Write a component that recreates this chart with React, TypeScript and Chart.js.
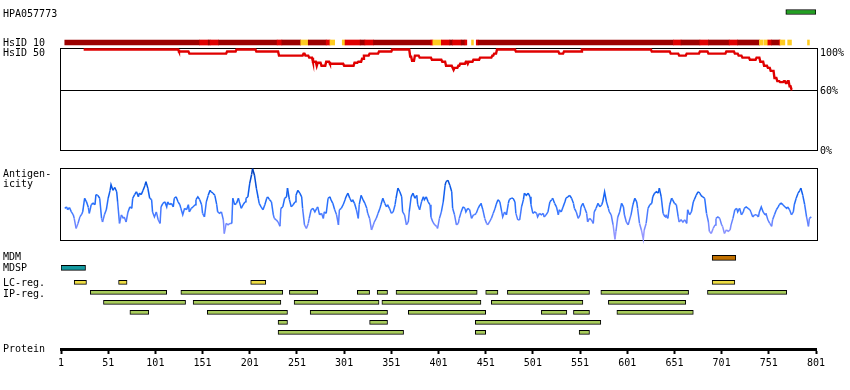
import React, { useEffect, useRef } from "react";
import { Chart, registerables } from "chart.js";

Chart.register(...registerables);

// ---------------- data ----------------
const ANTIGEN_ID = "HPA057773";
const ANTIGEN_RANGE: [number, number] = [769, 801];
const PROTEIN_TICKS = [1, 51, 101, 151, 201, 251, 301, 351, 401, 451, 501, 551, 601, 651, 701, 751, 801];

// HsID 10 similarity: [start, end, level]  level 0 = high, 1 = medium, 2 = low
const HSID10_SEGMENTS: [number, number, number][] = [
  [5, 148, 0], [148, 157, 1], [157, 159, 0], [159, 168, 1], [168, 230, 0], [230, 235, 1],
  [235, 255, 0], [255, 263, 2], [263, 282, 0], [282, 286, 1], [286, 291, 2], [299, 302, 2],
  [302, 318, 1], [318, 323, 0], [323, 332, 1], [332, 393, 0], [393, 395, 1], [395, 404, 2],
  [404, 413, 1], [413, 416, 0], [416, 425, 1], [425, 429, 0], [429, 431, 1], [436, 438, 2],
  [441, 443, 1], [443, 650, 0], [650, 658, 1], [658, 678, 0], [678, 687, 1], [687, 709, 0],
  [709, 718, 1], [718, 741, 0], [741, 745, 2], [746, 750, 2], [750, 754, 1], [754, 762, 0],
  [762, 763, 1], [763, 768, 2], [771, 775, 2], [792, 794, 2],
];

// HsID 50 identity (%) plateaus
const ID50_START = [25, 126, 137, 177, 187, 208, 232, 258, 260, 264, 268, 272, 273, 277, 282, 286, 301, 312, 316, 320,
  322, 328, 338, 352, 371, 373, 376, 381, 394, 405, 409, 416, 417, 418, 422, 424, 430, 432, 433, 438,
  445, 458, 460, 463, 483, 529, 534, 553, 627, 647, 656, 664, 678, 687, 706, 715, 719, 723, 731, 738,
  742, 746, 750, 753, 757, 760, 763, 767, 769, 771, 773, 775];
const ID50_VALUE = [100, 98, 96, 98, 100, 98, 94, 96, 94, 92, 88, 84, 87, 84, 88, 86, 84, 87, 88, 91,
  94, 96, 98, 100, 93, 89, 94, 92, 90, 88, 84, 82, 80, 82, 84, 86, 88, 86, 88, 90,
  92, 94, 96, 100, 98, 96, 98, 100, 98, 96, 94, 96, 98, 96, 98, 96, 94, 92, 90, 92,
  88, 84, 82, 79, 72, 69, 68, 69, 67, 69, 64, 61];
const ID50_END = 776;
const ID_TICKS = [100, 60, 0];

// Antigenicity score (0 = low, 100 = high): [residue, score]
const AG_POINTS: [number, number][] = [
  [5,44],[7,46],[8,42],[10,45],[12,39],[14,35],[15,30],[17,16],[19,23],[21,32],[23,36],[24,39],[26,58],[28,53],[30,45],[31,37],[33,49],[35,51],[37,49],[38,63],[40,62],[42,58],[44,30],[45,25],[47,35],[49,42],[51,58],[53,69],[54,77],[56,69],[58,73],[60,67],[61,53],[63,23],[65,35],[67,30],[68,32],[70,25],[72,39],[74,46],[76,44],[77,58],[79,63],[81,67],[83,60],[84,65],[86,63],[88,69],[90,76],[91,81],[93,72],[95,58],[97,56],[98,39],[100,32],[102,39],[104,28],[106,23],[107,46],[109,51],[111,53],[113,46],[114,53],[116,49],[118,51],[120,46],[121,58],[123,60],[125,53],[127,49],[128,44],[130,35],[132,44],[134,42],[136,49],[137,39],[139,44],[141,46],[143,49],[144,56],[146,60],[148,56],[150,49],[151,37],[153,32],[155,53],[157,62],[159,69],[160,67],[162,65],[164,62],[166,49],[167,39],[169,37],[171,39],[173,28],[174,9],[176,23],[178,21],[180,23],[182,23],[183,58],[185,49],[187,51],[189,58],[190,53],[192,44],[194,49],[196,53],[197,58],[199,60],[201,79],[203,91],
  [204,99],[206,90],[208,72],[210,58],[211,51],[213,46],[215,42],[217,49],[219,58],[220,60],[222,56],[224,53],[226,35],[227,30],[229,28],[231,25],[233,19],[234,44],[236,46],[238,58],[240,60],[241,72],[243,56],[245,46],[247,49],[249,53],[250,62],[252,69],[254,65],[256,60],[257,44],[259,21],[261,16],[263,23],[264,30],[266,42],[268,44],[270,39],[272,44],[273,46],[275,35],[277,37],[279,30],[280,39],[282,37],[284,58],[286,60],[287,56],[289,51],[291,42],[293,35],[295,21],[296,42],[298,44],[300,49],[302,56],[303,60],[305,65],[307,58],[309,53],[310,56],[312,51],[314,42],[316,30],[317,49],[319,62],[321,56],[323,51],[325,44],[326,37],[328,30],[330,14],[332,21],[333,25],[335,30],[337,37],[339,44],[340,49],[342,58],[344,51],[346,46],[347,49],[349,44],[351,37],[353,39],[355,49],[356,58],[358,72],[360,67],[362,60],[363,39],[365,35],[367,21],[369,25],[370,39],[372,60],[374,65],[376,58],[378,62],[379,49],[381,42],[383,53],[385,60],[386,56],[388,60],[390,53],[392,49],[393,32],[395,25],[397,21],[399,19],[400,16],
  [402,30],[404,39],[406,53],[408,76],[409,81],[411,83],[413,76],[415,67],[416,44],[418,35],[420,21],[422,23],[423,30],[425,39],[427,46],[429,44],[430,39],[432,44],[434,42],[436,30],[438,35],[439,35],[441,37],[443,44],[445,49],[446,51],[448,42],[450,30],[452,23],[453,21],[455,25],[457,30],[459,37],[461,44],[462,49],[464,56],[466,53],[468,39],[469,32],[471,39],[473,35],[475,51],[476,56],[478,58],[480,58],[482,53],[483,37],[485,28],[487,28],[489,46],[491,56],[492,65],[494,62],[496,65],[498,60],[499,49],[501,37],[503,39],[505,37],[506,32],[508,37],[510,35],[512,37],[513,32],[515,35],[517,39],[519,53],[521,56],[522,58],[524,51],[526,46],[528,35],[529,42],[531,39],[533,46],[535,53],[536,58],[538,60],[540,62],[542,58],[544,51],[545,44],[547,39],[549,30],[551,35],[552,46],[554,51],[556,44],[558,37],[559,25],[561,30],[563,28],[565,23],[566,39],[568,44],[570,51],[572,46],[574,49],[575,53],[577,67],[579,53],[581,44],[582,39],[584,35],[586,21],[588,1],[589,12],[591,32],[593,39],[595,51],[597,46],[598,35],[600,25],[602,21],
  [605,35],[607,49],[609,58],[611,53],[612,44],[614,23],[616,14],[618,1],[619,14],[621,23],[623,44],[625,49],[627,51],[628,60],[630,65],[632,67],[634,65],[635,72],[637,60],[639,37],[641,32],[642,35],[644,30],[646,49],[648,58],[649,56],[651,51],[653,49],[655,32],[656,25],[658,28],[660,25],[662,28],[664,23],[665,42],[667,35],[669,39],[671,53],[672,56],[674,62],[676,67],[678,65],[679,62],[681,60],[683,58],[685,37],[687,25],[688,12],[690,9],[692,16],[694,21],[695,30],[697,32],[699,30],[701,21],[702,19],[704,9],[706,14],[708,12],[710,14],[711,21],[713,30],[715,42],[717,44],[718,39],[720,44],[722,35],[724,39],[725,44],[727,46],[729,44],[731,42],[732,39],[734,32],[736,35],[738,35],[740,32],[741,39],[743,46],[745,39],[747,35],[748,37],[750,28],[752,23],[754,19],[755,28],[757,35],[759,42],[761,46],[762,49],[764,51],[766,49],[768,46],[770,44],[771,46],[773,42],[775,35],[777,39],[778,49],[780,58],[782,65],[784,69],[785,72],[787,62],[789,49],[791,32],[793,19],[794,30],[796,32],
];

// Sequence features: [start, end]
const MDM_REGIONS: [number, number][] = [[691, 716]];
const MDSP_REGIONS: [number, number][] = [[1, 27]];
const LC_REGIONS: [number, number][] = [[15, 28], [62, 71], [202, 218], [691, 715]];
// IP regions: [start, end, lane]
const IP_REGIONS: [number, number, number][] = [
  [32, 113, 0], [128, 236, 0], [243, 273, 0], [315, 328, 0], [336, 347, 0], [356, 442, 0], [451, 464, 0], [474, 561, 0], [573, 666, 0], [686, 770, 0],
  [46, 133, 1], [141, 234, 1], [248, 338, 1], [341, 446, 1], [457, 554, 1], [581, 663, 1],
  [74, 94, 2], [156, 241, 2], [265, 347, 2], [369, 451, 2], [510, 537, 2], [544, 561, 2], [590, 671, 2],
  [231, 241, 3], [328, 347, 3], [440, 573, 3],
  [231, 364, 4], [440, 451, 4], [550, 561, 4],
];

// ---------------- layout / style ----------------
const W = 850;
const H = 390;
const AREA_TOP = 0;
const AREA_BOTTOM = 349; // H - x axis height
const FONT = "'DejaVu Sans Mono', monospace";
const LEVEL_COLORS = ["#9c0000", "#e00000", "#ffcc22"];
const TRACK_POS = { MDM: 0, MDSP: 1, LC: 2.45, IP: 3.45 };

// linear axis range so that value a sits at pixel pa and value b at pixel pb
function span(a: number, pa: number, b: number, pb: number) {
  const h = AREA_BOTTOM - AREA_TOP;
  const s = (pa - pb) / (b - a);
  if (s > 0) {
    const min = a - (AREA_BOTTOM - pa) / s;
    return { min, max: min + h / s, reverse: false, offset: false };
  }
  const sr = -s;
  const min = a - (pa - AREA_TOP) / sr;
  return { min, max: min + h / sr, reverse: true, offset: false };
}

const AG_STOPS: [number, number[]][] = [
  [0, [170, 160, 255]],
  [25, [100, 130, 255]],
  [45, [45, 115, 255]],
  [70, [10, 90, 235]],
  [100, [0, 60, 180]],
];
function agColor(v: number) {
  for (let i = 1; i < AG_STOPS.length; i++) {
    const [v1, c1] = AG_STOPS[i];
    const [v0, c0] = AG_STOPS[i - 1];
    if (v <= v1 || i === AG_STOPS.length - 1) {
      const t = Math.max(0, Math.min(1, (v - v0) / (v1 - v0)));
      const c = c0.map((x, k) => Math.round(x + (c1[k] - x) * t));
      return `rgb(${c[0]},${c[1]},${c[2]})`;
    }
  }
  return "#000";
}

const featureBar = (label: string, data: any[], color: string, thickness: number) => ({
  type: "bar" as const,
  label,
  indexAxis: "y" as const,
  xAxisID: "x",
  yAxisID: "yFeat",
  data,
  backgroundColor: color,
  borderColor: "#000",
  borderWidth: 1,
  borderSkipped: false,
  barThickness: thickness,
  grouped: false,
});

const decorPlugin = {
  id: "decor",
  beforeDatasetsDraw(chart: any) {
    const { ctx, scales } = chart;
    const x = scales.x;
    const yId = scales.yId;
    const yAg = scales.yAg;
    const left = Math.round(x.getPixelForValue(1)) - 1 + 0.5;
    const right = Math.round(x.getPixelForValue(801)) + 1 + 0.5;
    ctx.save();
    ctx.strokeStyle = "#000";
    ctx.lineWidth = 1;
    const idTop = Math.round(yId.getPixelForValue(100) - 1.5) + 0.5;
    const idBot = Math.round(yId.getPixelForValue(0) - 1.5) + 0.5;
    ctx.strokeRect(left, idTop, right - left, idBot - idTop);
    const y60 = Math.round(yId.getPixelForValue(60)) + 0.5;
    ctx.beginPath();
    ctx.moveTo(left, y60);
    ctx.lineTo(right, y60);
    ctx.stroke();
    const agTop = Math.round(yAg.getPixelForValue(100)) + 0.5;
    const agBot = Math.round(yAg.getPixelForValue(0)) + 0.5;
    ctx.strokeRect(left, agTop, right - left, agBot - agTop);
    ctx.restore();
  },
  afterDraw(chart: any) {
    const { ctx, scales } = chart;
    const { x, yTop, yId, yAg, yFeat } = scales;
    ctx.save();
    ctx.fillStyle = "#000";
    ctx.font = `10px ${FONT}`;
    ctx.textBaseline = "alphabetic";
    ctx.textAlign = "left";
    const lx = 3;
    const put = (t: string, y: number) => ctx.fillText(t, lx, Math.round(y));
    put(ANTIGEN_ID, yTop.getPixelForValue(0) + 4.5);
    put("HsID 10", yTop.getPixelForValue(1) + 3.5);
    put("HsID 50", yId.getPixelForValue(100) + 6.5);
    put("Antigen-", yAg.getPixelForValue(100) + 8.5);
    put("icity", yAg.getPixelForValue(100) + 18.5);
    put("MDM", yFeat.getPixelForValue(TRACK_POS.MDM) + 1.7);
    put("MDSP", yFeat.getPixelForValue(TRACK_POS.MDSP) + 2.7);
    put("LC-reg.", yFeat.getPixelForValue(TRACK_POS.LC) + 4);
    put("IP-reg.", yFeat.getPixelForValue(TRACK_POS.IP) + 4.7);
    put("Protein", x.top + 3);
    // identity axis labels on the right
    const rx = Math.round(x.getPixelForValue(801)) + 4;
    const dy: Record<number, number> = { 100: 6.5, 60: 4, 0: 2.5 };
    ID_TICKS.forEach((v) => {
      ctx.fillText(`${v}%`, rx, Math.round(yId.getPixelForValue(v) + (dy[v] ?? 3.5)));
    });
    ctx.restore();
  },
};

export default function App() {
  const ref = useRef<HTMLCanvasElement | null>(null);

  useEffect(() => {
    if (!ref.current) return;

    const idPoints: { x: number; y: number }[] = [];
    ID50_START.forEach((s, i) => {
      const last = i === ID50_START.length - 1;
      const e = last ? ID50_END : ID50_START[i + 1] - 1;
      idPoints.push({ x: s, y: ID50_VALUE[i] });
      if (e > s) idPoints.push({ x: e, y: ID50_VALUE[i] });
    });

    const chart = new Chart(ref.current, {
      type: "line",
      data: {
        datasets: [
          {
            type: "line",
            label: "HsID 50",
            xAxisID: "x",
            yAxisID: "yId",
            data: idPoints,
            borderColor: "#e00000",
            borderWidth: 2.4,
            pointRadius: 0,
            tension: 0,
            fill: false,
          },
          {
            type: "line",
            label: "Antigenicity",
            xAxisID: "x",
            yAxisID: "yAg",
            data: AG_POINTS.map(([r, v]) => ({ x: r, y: v })),
            borderColor: agColor(50),
            borderWidth: 1.5,
            pointRadius: 0,
            tension: 0,
            fill: false,
            segment: {
              borderColor: (c: any) => agColor((c.p0.parsed.y + c.p1.parsed.y) / 2),
            },
          },
          {
            type: "bar",
            label: "HsID 10",
            indexAxis: "y",
            xAxisID: "x",
            yAxisID: "yTop",
            data: HSID10_SEGMENTS.map(([s, e]) => ({ x: [s, e], y: 1 })),
            backgroundColor: HSID10_SEGMENTS.map((sg) => LEVEL_COLORS[sg[2]]),
            borderWidth: 0,
            barThickness: 5,
            grouped: false,
          } as any,
          {
            type: "bar",
            label: ANTIGEN_ID,
            indexAxis: "y",
            xAxisID: "x",
            yAxisID: "yTop",
            data: [{ x: ANTIGEN_RANGE, y: 0 }],
            backgroundColor: "#22a022",
            borderColor: "#000",
            borderWidth: 1,
            borderSkipped: false,
            barThickness: 5,
            grouped: false,
          } as any,
          featureBar("MDM", MDM_REGIONS.map(([s, e]) => ({ x: [s, e], y: TRACK_POS.MDM })), "#c07000", 5) as any,
          featureBar("MDSP", MDSP_REGIONS.map(([s, e]) => ({ x: [s, e], y: TRACK_POS.MDSP })), "#14999f", 5) as any,
          featureBar("LC-reg.", LC_REGIONS.map(([s, e]) => ({ x: [s, e], y: TRACK_POS.LC })), "#eedd44", 4) as any,
          featureBar("IP-reg.", IP_REGIONS.map(([s, e, l]) => ({ x: [s, e], y: TRACK_POS.IP + l })), "#a8cc5c", 4) as any,
        ],
      },
      options: {
        responsive: false,
        animation: false,
        devicePixelRatio: 1,
        events: [],
        layout: { padding: { left: 61, right: 34, top: AREA_TOP, bottom: 0 } },
        plugins: { legend: { display: false }, tooltip: { enabled: false }, title: { display: false } },
        scales: {
          x: {
            type: "linear",
            position: "bottom",
            min: 1,
            max: 801,
            bounds: "data",
            offset: false,
            afterBuildTicks: (s: any) => {
              s.ticks = PROTEIN_TICKS.map((v) => ({ value: v }));
            },
            afterFit: (s: any) => {
              s.height = H - AREA_BOTTOM;
            },
            border: { display: true, color: "#000", width: 3 },
            grid: { drawOnChartArea: false, drawTicks: true, tickLength: 5, tickWidth: 2, tickColor: "#000", offset: false },
            ticks: {
              color: "#000",
              font: { family: FONT, size: 10 },
              padding: 3,
              maxRotation: 0,
              autoSkip: false,
              callback: (v: any) => String(v),
            },
          },
          yTop: { type: "linear", axis: "y", display: false, bounds: "data", ...span(0, 12, 1, 42.5) },
          yId: { type: "linear", axis: "y", display: false, bounds: "data", ...span(0, 151.5, 100, 49.5) },
          yAg: { type: "linear", axis: "y", display: false, bounds: "data", ...span(0, 240, 100, 168) },
          yFeat: { type: "linear", axis: "y", display: false, bounds: "data", ...span(0, 257.8, 1, 267.8) },
        } as any,
      },
      plugins: [decorPlugin],
    } as any);

    return () => chart.destroy();
  }, []);

  return (
    <div style={{ position: "absolute", left: 0, top: 0, width: W, height: H, background: "#fff" }}>
      <canvas ref={ref} width={W} height={H} style={{ width: W, height: H, display: "block" }} />
    </div>
  );
}
